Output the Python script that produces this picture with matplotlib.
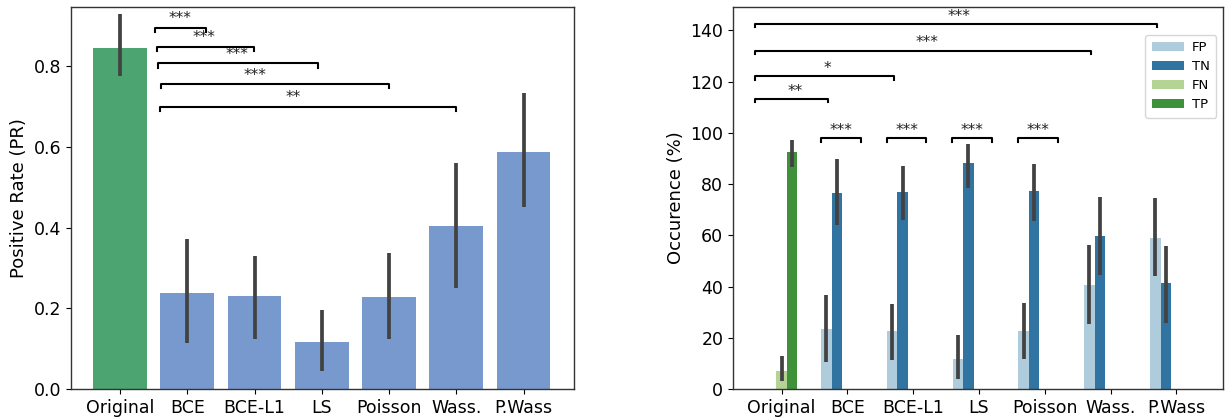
import colorsys
import matplotlib
matplotlib.use("Agg")
import matplotlib.pyplot as plt
import matplotlib.colors as mcolors
from matplotlib.patches import Patch

# ---------------- data ----------------
categories = ["Original", "BCE", "BCE-L1", "LS", "Poisson", "Wass.", "P.Wass"]

# left panel: positive rate
pr_mean = [0.845, 0.237, 0.230, 0.117, 0.228, 0.405, 0.588]
pr_low = [0.775, 0.113, 0.125, 0.045, 0.123, 0.250, 0.452]
pr_high = [0.930, 0.372, 0.330, 0.197, 0.337, 0.560, 0.735]

# left brackets: (x1, x2, y, label, text_x)
pr_brackets = [
    (0.52, 1.28, 0.896, "***", 0.89),
    (0.55, 1.99, 0.849, "***", 1.25),
    (0.57, 2.95, 0.807, "***", 1.74),
    (0.61, 4.00, 0.755, "***", 2.01),
    (0.60, 4.99, 0.700, "**", 2.57),
]

# right panel: occurrence (%) by outcome
outcomes = ["FP", "TN", "FN", "TP"]
occ_mean = {
    "FP": [None, 23.4, 22.7, 11.8, 22.7, 40.5, 58.8],
    "TN": [None, 76.4, 77.0, 88.4, 77.4, 59.6, 41.2],
    "FN": [7.1, None, None, None, None, None, None],
    "TP": [92.6, None, None, None, None, None, None],
}
occ_low = {
    "FP": [None, 10.4, 11.4, 4.0, 11.7, 25.3, 44.2],
    "TN": [None, 64.0, 66.0, 78.6, 65.7, 44.4, 25.7],
    "FN": [3.0, None, None, None, None, None, None],
    "TP": [86.8, None, None, None, None, None, None],
}
occ_high = {
    "FP": [None, 36.5, 33.0, 20.9, 33.4, 56.4, 74.5],
    "TN": [None, 89.6, 87.0, 95.5, 87.9, 74.8, 55.7],
    "FN": [12.7, None, None, None, None, None, None],
    "TP": [97.1, None, None, None, None, None, None],
}

# right brackets: (x1, x2, y, label, text_x)
occ_brackets = [
    (-0.40, 0.70, 113.2, "**", 0.20),
    (-0.40, 1.71, 122.0, "*", 0.70),
    (-0.40, 4.70, 132.0, "***", 2.21),
    (-0.40, 5.70, 142.3, "***", 2.70),
    (0.60, 1.20, 97.8, "***", 0.90),
    (1.60, 2.20, 97.8, "***", 1.90),
    (2.59, 3.20, 97.8, "***", 2.90),
    (3.59, 4.20, 97.8, "***", 3.90),
]

# ---------------- style ----------------
def desat(c, prop=0.75):
    r, g, b = mcolors.to_rgb(c)
    h, l, s = colorsys.rgb_to_hls(r, g, b)
    return colorsys.hls_to_rgb(h, l, s * prop)

paired = {"FP": "#a6cee3", "TN": "#1f78b4", "FN": "#b2df8a", "TP": "#33a02c"}
occ_colors = {k: desat(v) for k, v in paired.items()}
offsets = {"FP": -0.32, "TN": -0.16, "FN": 0.0, "TP": 0.16}
bw = 0.16

err_color = "#424242"
plt.rcParams["font.family"] = "DejaVu Sans"

fig = plt.figure(figsize=(12.31, 4.19), dpi=100)
W, H = 1231, 419
ax1 = fig.add_axes([71 / W, (H - 389) / H, 503 / W, 382 / H])
ax2 = fig.add_axes([733 / W, (H - 389) / H, 490 / W, 382 / H])

x = list(range(len(categories)))

# left panel
bar_cols = ["#4ca470"] + ["#7899cd"] * (len(categories) - 1)
ax1.bar(x, pr_mean, width=0.8, color=bar_cols, edgecolor="none", zorder=1)
for xi, lo, hi in zip(x, pr_low, pr_high):
    ax1.plot([xi, xi], [lo, hi], color=err_color, lw=2.7, solid_capstyle="butt", zorder=3)

ax1.set_xlim(-0.73, 6.75)
ax1.set_ylim(0, 0.947)
ax1.set_yticks([0.0, 0.2, 0.4, 0.6, 0.8])
ax1.set_xticks(x)
ax1.set_xticklabels(categories)
ax1.set_ylabel("Positive Rate (PR)", fontsize=13)

tip1 = 0.01
for x1, x2, y, lab, tx in pr_brackets:
    ax1.plot([x1, x1, x2, x2], [y - tip1, y, y, y - tip1], color="black", lw=1.5, zorder=4)
    ax1.annotate(lab, xy=(tx, y), xytext=(0, 3.5), textcoords="offset points",
                 ha="center", va="baseline", fontsize=11, color="#222222")

# right panel
for o in outcomes:
    for i, (m, lo, hi) in enumerate(zip(occ_mean[o], occ_low[o], occ_high[o])):
        if m is None:
            continue
        xp = i + offsets[o]
        ax2.bar(xp, m, width=bw, color=occ_colors[o], edgecolor="none", zorder=1)
        ax2.plot([xp, xp], [lo, hi], color=err_color, lw=2.7, solid_capstyle="butt", zorder=3)

ax2.set_xlim(-0.74, 6.71)
ax2.set_ylim(0, 149.1)
ax2.set_yticks([0, 20, 40, 60, 80, 100, 120, 140])
ax2.set_xticks(x)
ax2.set_xticklabels(categories)
ax2.set_ylabel("Occurence (%)", fontsize=13)

tip2 = 1.2
for x1, x2, y, lab, tx in occ_brackets:
    ax2.plot([x1, x1, x2, x2], [y - tip2, y, y, y - tip2], color="black", lw=1.5, zorder=4)
    ax2.annotate(lab, xy=(tx, y), xytext=(0, 2.5), textcoords="offset points",
                 ha="center", va="baseline", fontsize=11, color="#222222")

handles = [Patch(facecolor=occ_colors[o], edgecolor="none", label=o) for o in outcomes]
ax2.legend(handles=handles, loc="upper right", bbox_to_anchor=(0.986, 0.927),
           borderaxespad=0, fontsize=9.5, frameon=True, fancybox=True, framealpha=0.8,
           handlelength=2.4, handletextpad=0.6, borderpad=0.5, labelspacing=0.45)

for ax in (ax1, ax2):
    ax.tick_params(labelsize=12.5)
    for sp in ax.spines.values():
        sp.set_color("#333333")
        sp.set_linewidth(1.0)

fig.savefig("out.png", dpi=100)
